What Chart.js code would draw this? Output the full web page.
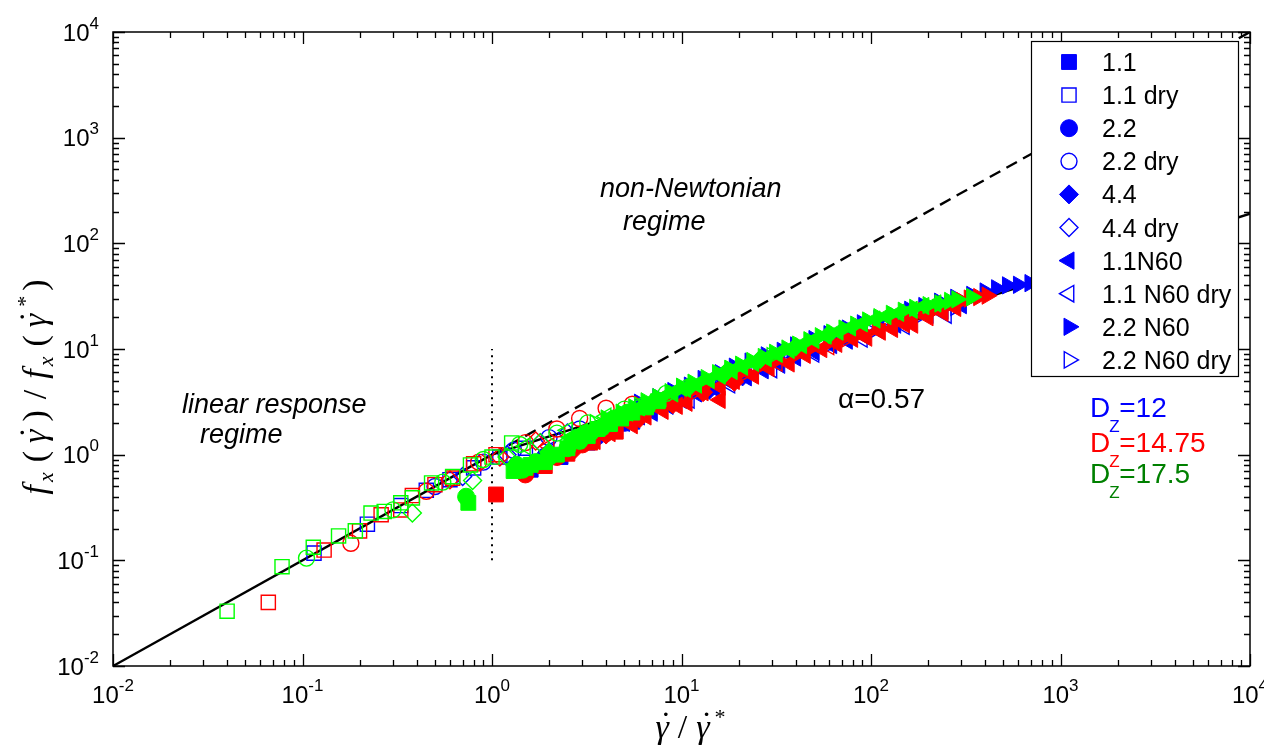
<!DOCTYPE html>
<html>
<head>
<meta charset="utf-8">
<script src="https://cdn.jsdelivr.net/npm/chart.js@4.4.0/dist/chart.umd.min.js"></script>
<style>
html, body { margin: 0; padding: 0; background: #fff; }
#wrap { width: 1264px; height: 751px; position: relative; }
</style>
</head>
<body>
<div id="wrap"><canvas id="chart"></canvas></div>
<script>
// legend order of the ten experiment series
var series_names = ['1.1', '1.1 dry', '2.2', '2.2 dry', '4.4', '4.4 dry',
                    '1.1N60', '1.1 N60 dry', '2.2 N60', '2.2 N60 dry'];
var depth_values = ['12', '14.75', '17.5'];
var x_tick_exps = [-2, -1, 0, 1, 2, 3, 4];
var y_tick_exps = [-2, -1, 0, 1, 2, 3, 4];

// reference lines  [shear rate, force ratio]
var linear_line = [[0.01, 0.01], [1, 1]];
var newton_line = [[1, 1], [10000, 10000]];
var alpha_line = [[1, 1], [10000, 190.5]];
var cutoff_line = [[1, 0.1], [1, 10]];

// Dz = 12 (blue)
var b_sq = [[1.6, 0.72], [2.3, 0.95], [3.2, 1.3], [4.4, 1.7], [5.5, 2.05]];
var b_sq_dry = [[0.115, 0.117], [0.22, 0.22], [0.33, 0.33], [0.45, 0.46], [0.6, 0.58], [0.8, 0.75], [1.1, 0.95], [1.5, 1.15]];
var b_ci = [[1.9, 0.95], [2.6, 1.15], [3.6, 1.5], [5, 2.0]];
var b_ci_dry = [[0.5, 0.5], [0.9, 0.85], [1.3, 1.1], [2.0, 1.45], [2.9, 1.75], [4.2, 2.1]];
var b_di = [[2.8, 1.35], [4, 1.75], [6, 2.35], [9, 3.1], [14, 4.1], [21, 5.5]];
var b_di_dry = [[0.7, 0.62], [1.2, 1.0], [1.8, 1.3], [2.5, 1.6]];
var b_lt = [[3.5, 1.5], [4.2, 1.75], [5, 2.0], [6, 2.3], [7, 2.55], [8.5, 2.9], [10, 3.3], [12, 3.8], [15, 4.2], [18, 4.9],
            [22, 5.4], [27, 6.3], [33, 7.1], [40, 8.3], [50, 9.4], [62, 10.9], [75, 12], [90, 13.6], [110, 15], [135, 17],
            [160, 18.5], [200, 21], [240, 23], [300, 26]];
var b_lt_dry = [[2, 1.1], [3, 1.45], [4.5, 1.9], [7, 2.5], [11, 3.3], [18, 4.6], [30, 6.4], [50, 9], [90, 12.5], [150, 16.5], [250, 21]];
var b_rt = [[6, 3.1], [7.5, 3.5], [9, 4.0], [11, 4.5], [13, 5.2], [16, 5.9], [19, 6.8], [23, 7.6], [28, 8.7], [34, 9.6],
            [40, 10.8], [50, 12.4], [60, 13.8], [75, 15.6], [90, 17.5], [110, 19.3], [130, 21], [160, 23.5], [190, 25.5],
            [230, 28], [280, 30.5], [340, 32.5], [400, 35], [460, 37.5], [525, 40], [600, 40.5], [690, 42]];
var b_rt_dry = [[5, 2.3], [8, 3.1], [12, 4.1], [20, 5.8], [35, 8], [60, 11], [100, 14.5], [170, 19.5], [280, 25]];

// Dz = 14.75 (red)
var r_sq = [[1.05, 0.42], [1.9, 0.78], [2.5, 1.02], [3.3, 1.3], [4.5, 1.65]];
var r_sq_dry = [[0.066, 0.04], [0.13, 0.125], [0.2, 0.19], [0.26, 0.27], [0.33, 0.3], [0.38, 0.41], [0.5, 0.52], [0.62, 0.6], [0.8, 0.82], [1.05, 1.0]];
var r_ci = [[1.5, 0.65], [2.2, 0.95], [3, 1.25], [4, 1.6]];
var r_ci_dry = [[0.18, 0.145], [0.45, 0.45], [0.85, 0.85], [1.5, 1.3], [2.2, 1.75], [2.9, 2.2], [4, 2.75], [5.5, 3.0]];
var r_di = [[2.7, 1.1], [4, 1.55], [6, 2.2], [9, 3.0], [13, 3.9], [19, 4.9]];
var r_di_dry = [[0.6, 0.58], [1.1, 0.95], [1.7, 1.35]];
var r_lt = [[3.5, 1.35], [4.2, 1.6], [5.5, 1.9], [6.5, 2.3], [8, 2.6], [9.5, 2.9], [10.7, 3.1], [13, 3.9], [16, 3.3], [16, 4.4],
            [19, 5.0], [24, 5.6], [29, 6.6], [37, 7.3], [45, 8.8], [55, 10], [66, 11.2], [80, 12.5], [95, 12.8], [112, 14.6],
            [130, 15.5], [150, 17.2], [166, 17], [200, 20], [240, 22], [280, 24.5]];
var r_lt_dry = [[2, 1.2], [3.5, 1.7], [6, 2.5], [10, 3.5], [18, 5], [32, 7.4], [60, 10.6]];
var r_rt = [[5, 2.2], [6, 2.5], [7, 2.9], [8.5, 3.3], [11, 3.9], [13.5, 4.6], [17, 5.2], [21, 6.1], [26, 6.9], [32, 7.9],
            [40, 9], [48, 10.2], [60, 11.5], [72, 12.8], [90, 14.5], [108, 16.2], [130, 18], [160, 20.5], [190, 23],
            [225, 24.5], [260, 26.5], [300, 28.5], [330, 30], [370, 31], [410, 32]];
var r_rt_dry = [[4, 2.0], [7, 2.8], [12, 4], [22, 6], [40, 8.8], [75, 12.6]];

// Dz = 17.5 (green)
var g_sq = [[0.75, 0.35], [1.3, 0.7], [1.5, 0.75], [1.6, 0.8], [1.9, 0.85], [2.2, 1.0], [2.5, 1.15], [2.8, 1.35],
            [3.2, 1.5], [3.6, 1.75], [4.2, 1.95], [4.8, 2.2], [5.5, 2.5], [6.5, 2.8], [7.5, 3.2]];
var g_sq_dry = [[0.04, 0.033], [0.078, 0.087], [0.114, 0.133], [0.155, 0.17], [0.19, 0.19], [0.23, 0.28], [0.27, 0.29],
                [0.33, 0.35], [0.38, 0.39], [0.48, 0.54], [0.62, 0.62], [0.77, 0.8], [1.0, 0.95], [1.27, 1.29]];
var g_ci = [[0.73, 0.4], [1.35, 0.8], [1.45, 0.72], [1.7, 0.85], [2.0, 0.95], [2.5, 1.15], [2.9, 1.35], [3.3, 1.6],
            [3.8, 1.8], [4.4, 2.2], [5.2, 2.5]];
var g_ci_dry = [[0.105, 0.105], [0.3, 0.3], [0.55, 0.55], [0.9, 0.9], [1.4, 1.25], [2.2, 1.6], [3.2, 2.0], [5, 2.7], [8.3, 3.8]];
var g_di = [[2, 1.05], [3, 1.55], [4.5, 2.2], [7, 3.1], [11, 4.4], [17, 5.9], [26, 8.0], [40, 10.5], [60, 13.8]];
var g_di_dry = [[0.38, 0.28], [0.79, 0.57], [1.2, 0.95], [1.8, 1.3]];
var g_lt = [[2.6, 1.45], [3, 1.65], [3.5, 1.8], [4, 2.05], [4.5, 2.3], [5.2, 2.5], [6, 2.8], [6.8, 3.1], [7.8, 3.4],
            [9, 3.8], [10.5, 4.2], [12, 4.6], [14, 5.1], [16, 5.6], [18.5, 6.2], [21, 6.8], [24, 7.4], [28, 8.2], [32, 9.0],
            [37, 9.8], [43, 10.9], [50, 12.2], [58, 13.4], [67, 14.6], [78, 16], [90, 17.5], [105, 19], [120, 20.5],
            [140, 22], [165, 23.5], [190, 25.5], [220, 27]];
var g_lt_dry = [[1.5, 1.2], [2.5, 1.7], [4, 2.3], [6, 3.0], [10, 4.3], [16, 5.8]];
var g_rt = [[4, 2.2], [4.8, 2.5], [5.6, 2.8], [6.5, 3.2], [7.5, 3.5], [8.7, 3.9], [10, 4.4], [11.5, 4.8], [13.5, 5.3],
            [15.5, 5.9], [18, 6.5], [20.5, 7.1], [23.5, 7.7], [27, 8.4], [31, 9.2], [36, 10.1], [41, 11], [47, 12.1],
            [54, 13.2], [62, 14.3], [72, 15.6], [83, 17], [96, 18.6], [110, 20], [128, 21.5], [148, 23], [170, 24.5],
            [200, 26], [231, 27], [260, 28.5], [284, 29.5], [340, 31]];
var g_rt_dry = [[3.5, 2.0], [6, 2.9], [10, 4.3], [18, 6.4], [30, 8.6]];

var blue_sets = [b_sq, b_sq_dry, b_ci, b_ci_dry, b_di, b_di_dry, b_lt, b_lt_dry, b_rt, b_rt_dry];
var red_sets = [r_sq, r_sq_dry, r_ci, r_ci_dry, r_di, r_di_dry, r_lt, r_lt_dry, r_rt, r_rt_dry];
var green_sets = [g_sq, g_sq_dry, g_ci, g_ci_dry, g_di, g_di_dry, g_lt, g_lt_dry, g_rt, g_rt_dry];

var marker_styles = [
    { style: 'rect', radius: 10.5, rotation: 0, filled: true },
    { style: 'rect', radius: 10, rotation: 0, filled: false },
    { style: 'circle', radius: 8.5, rotation: 0, filled: true },
    { style: 'circle', radius: 8, rotation: 0, filled: false },
    { style: 'rectRot', radius: 9.5, rotation: 0, filled: true },
    { style: 'rectRot', radius: 9, rotation: 0, filled: false },
    { style: 'triangle', radius: 10, rotation: -90, filled: true },
    { style: 'triangle', radius: 9.5, rotation: -90, filled: false },
    { style: 'triangle', radius: 10, rotation: 90, filled: true },
    { style: 'triangle', radius: 9.5, rotation: 90, filled: false }
];

var SANS = '"Liberation Sans", Arial, sans-serif';
var SERIF = '"Liberation Serif", "Times New Roman", serif';

function toPoints(arr) {
    return arr.map(function (p) { return { x: p[0], y: p[1] }; });
}

function markerSets(sets, color, order) {
    return sets.map(function (arr, i) {
        var m = marker_styles[i];
        return {
            label: series_names[i],
            data: toPoints(arr),
            pointStyle: m.style,
            pointRadius: m.radius,
            pointRotation: m.rotation,
            pointBackgroundColor: m.filled ? color : 'rgba(0,0,0,0)',
            pointBorderColor: color,
            pointBorderWidth: m.filled ? 1 : 1.4,
            showLine: false,
            order: order
        };
    });
}

function refLine(arr, width, dash) {
    return {
        data: toPoints(arr),
        showLine: true,
        borderColor: '#000',
        borderWidth: width,
        borderDash: dash,
        pointRadius: 0,
        order: 10
    };
}

var datasets = [
    refLine(linear_line, 2.4, []),
    refLine(newton_line, 2.4, [12, 7]),
    refLine(alpha_line, 2.4, []),
    refLine(cutoff_line, 2, [2, 5])
].concat(markerSets(green_sets, '#00ff00', 1))
 .concat(markerSets(red_sets, '#ff0000', 2))
 .concat(markerSets(blue_sets, '#0000ff', 3));

function drawMarker(ctx, m, x, y, color) {
    var r = m.radius;
    ctx.save();
    ctx.translate(x, y);
    ctx.rotate(m.rotation * Math.PI / 180);
    ctx.beginPath();
    if (m.style === 'rect') {
        var s = r * Math.SQRT1_2;
        ctx.rect(-s, -s, 2 * s, 2 * s);
    } else if (m.style === 'circle') {
        ctx.arc(0, 0, r, 0, Math.PI * 2);
    } else if (m.style === 'rectRot') {
        ctx.moveTo(0, -r); ctx.lineTo(r, 0); ctx.lineTo(0, r); ctx.lineTo(-r, 0); ctx.closePath();
    } else {
        ctx.moveTo(0, -r); ctx.lineTo(r * 0.866, r * 0.5); ctx.lineTo(-r * 0.866, r * 0.5); ctx.closePath();
    }
    ctx.strokeStyle = color;
    ctx.lineWidth = m.filled ? 1 : 1.4;
    if (m.filled) { ctx.fillStyle = color; ctx.fill(); }
    ctx.stroke();
    ctx.restore();
}

function drawPow(ctx, x, baseY, exp, align) {
    ctx.font = '24px ' + SANS;
    var w10 = ctx.measureText('10').width;
    ctx.font = '17px ' + SANS;
    var e = String(exp);
    var we = ctx.measureText(e).width;
    var left = align === 'right' ? x - w10 - we : x - (w10 + we) / 2;
    ctx.textAlign = 'left';
    ctx.textBaseline = 'alphabetic';
    ctx.font = '24px ' + SANS;
    ctx.fillText('10', left, baseY);
    ctx.font = '17px ' + SANS;
    ctx.fillText(e, left + w10, baseY - 12);
}

// runs: [text, font, dy, gapAfter, dotAbove]
function drawRuns(ctx, runs, x, y) {
    runs.forEach(function (r) {
        ctx.font = r[1];
        ctx.textAlign = 'left';
        ctx.fillText(r[0], x, y + r[2]);
        var w = ctx.measureText(r[0]).width;
        if (r[4]) {
            ctx.textAlign = 'center';
            ctx.fillText('\u02D9', x + w * 0.62, y + r[2] - 3);
            ctx.textAlign = 'left';
        }
        x += w + r[3];
    });
}
function runsWidth(ctx, runs) {
    var w = 0;
    runs.forEach(function (r) { ctx.font = r[1]; w += ctx.measureText(r[0]).width + r[3]; });
    return w;
}

var frame_plugin = {
    id: 'frame',
    afterDatasetsDraw: function (chart) {
        var ctx = chart.ctx, a = chart.chartArea;
        var xs = chart.scales.x, ys = chart.scales.y;
        ctx.save();
        ctx.strokeStyle = '#000';
        ctx.lineWidth = 1.3;
        ctx.beginPath();
        for (var e = -2; e <= 4; e++) {
            for (var k = 1; k <= 9; k++) {
                var v = k * Math.pow(10, e);
                if (v > 10000.5) continue;
                var len = k === 1 ? 12 : 6;
                var px = Math.round(xs.getPixelForValue(v)) + 0.5;
                var py = Math.round(ys.getPixelForValue(v)) + 0.5;
                ctx.moveTo(px, a.bottom); ctx.lineTo(px, a.bottom - len);
                ctx.moveTo(px, a.top); ctx.lineTo(px, a.top + len);
                ctx.moveTo(a.left, py); ctx.lineTo(a.left + len, py);
                ctx.moveTo(a.right, py); ctx.lineTo(a.right - len, py);
            }
        }
        ctx.stroke();
        ctx.lineWidth = 1.5;
        ctx.strokeRect(a.left, a.top, a.right - a.left, a.bottom - a.top);

        // tick labels
        ctx.fillStyle = '#000';
        x_tick_exps.forEach(function (e) {
            drawPow(ctx, xs.getPixelForValue(Math.pow(10, e)), a.bottom + 37, e, 'center');
        });
        y_tick_exps.forEach(function (e) {
            drawPow(ctx, 99, ys.getPixelForValue(Math.pow(10, e)) + 8.5, e, 'right');
        });

        // axis titles
        var it = 'italic 34px ' + SERIF, itS = 'italic 22px ' + SERIF, rm = '34px ' + SERIF;
        ctx.textBaseline = 'alphabetic';
        var xRuns = [['\u03B3', it, 0, 9, true], ['/', rm, 0, 9], ['\u03B3', it, 0, 4, true], ['*', itS, -14, 0]];
        var xw = runsWidth(ctx, xRuns);
        drawRuns(ctx, xRuns, 690 - xw / 2, 738);

        var yRuns = [['f', it, 0, 3], ['x', itS, 7, 10], ['(', rm, 0, 8], ['\u03B3', it, 0, 8, true], [')', rm, 0, 11],
                     ['/', rm, 0, 11], ['f', it, 0, 3], ['x', itS, 7, 10], ['(', rm, 0, 8], ['\u03B3', it, 0, 6, true],
                     ['*', itS, -14, 6], [')', rm, 0, 0]];
        ctx.save();
        ctx.translate(46, 387);
        ctx.rotate(-Math.PI / 2);
        var yw = runsWidth(ctx, yRuns);
        drawRuns(ctx, yRuns, -yw / 2, 0);
        ctx.restore();

        // annotations
        ctx.textAlign = 'left';
        ctx.font = 'italic 27px ' + SANS;
        ctx.fillText('non-Newtonian', 600, 197);
        ctx.fillText('regime', 623, 230);
        ctx.fillText('linear response', 182, 413);
        ctx.fillText('regime', 200, 443);
        ctx.font = '28px ' + SANS;
        ctx.fillText('\u03B1=0.57', 838, 408);

        var depth_colors = ['#0000ff', '#ff0000', '#008000'];
        var depth_base = [417, 452, 483];
        depth_values.forEach(function (d, i) {
            ctx.fillStyle = depth_colors[i];
            ctx.font = '28px ' + SANS;
            ctx.fillText('D', 1090, depth_base[i]);
            var wd = ctx.measureText('D').width;
            ctx.fillText('=' + d, 1090 + wd + 9, depth_base[i]);
            ctx.font = '17px ' + SANS;
            ctx.fillText('Z', 1090 + wd - 1, depth_base[i] + 15);
        });

        // legend box
        ctx.fillStyle = '#fff';
        ctx.fillRect(1031, 41, 207, 335);
        ctx.strokeStyle = '#000';
        ctx.lineWidth = 1.2;
        ctx.strokeRect(1031.5, 41.5, 207, 335);
        series_names.forEach(function (name, i) {
            var y = 62 + i * 33.1;
            drawMarker(ctx, marker_styles[i], 1069, y, '#0000ff');
            ctx.fillStyle = '#000';
            ctx.font = '25px ' + SANS;
            ctx.fillText(name, 1102, y + 9);
        });
        ctx.restore();
    }
};

new Chart(document.getElementById('chart'), {
    type: 'scatter',
    data: { datasets: datasets },
    options: {
        responsive: true,
        maintainAspectRatio: false,
        animation: false,
        layout: { padding: { left: 0, right: 14, top: 32, bottom: 0 } },
        plugins: { legend: { display: false }, tooltip: { enabled: false } },
        scales: {
            x: {
                type: 'logarithmic', min: 0.01, max: 10000,
                grid: { display: false }, border: { display: false },
                ticks: { display: false },
                afterFit: function (s) { s.height = 85; }
            },
            y: {
                type: 'logarithmic', min: 0.01, max: 10000,
                grid: { display: false }, border: { display: false },
                ticks: { display: false },
                afterFit: function (s) { s.width = 113; }
            }
        }
    },
    plugins: [frame_plugin]
});
</script>
</body>
</html>
